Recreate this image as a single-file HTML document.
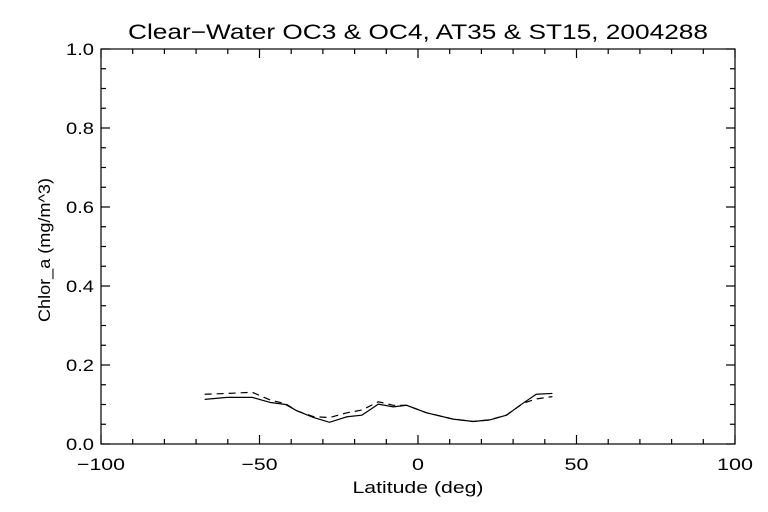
<!DOCTYPE html>
<html><head><meta charset="utf-8"><style>
body{margin:0;background:#fff}
svg{display:block}
text{font-family:"Liberation Sans",sans-serif;fill:#000}
</style></head><body>
<svg id="chart" width="768" height="512" viewBox="0 0 768 512">
<rect width="768" height="512" fill="#fff"/>
<text x="418" y="39" font-size="21" text-anchor="middle" textLength="580" lengthAdjust="spacingAndGlyphs">Clear−Water OC3 &amp; OC4, AT35 &amp; ST15, 2004288</text>
<text x="418" y="493" font-size="17" text-anchor="middle" textLength="131" lengthAdjust="spacingAndGlyphs">Latitude (deg)</text>
<text transform="translate(50,250) rotate(-90)" font-size="17" text-anchor="middle" textLength="144" lengthAdjust="spacingAndGlyphs">Chlor_a (mg/m^3)</text>
<rect x="101" y="49" width="634" height="395" fill="none" stroke="#000" stroke-width="1.2"/>
<g id="axes"></g>
<g id="series"></g>
</svg>
<script>
const xTicks=[-100,-50,0,50,100];
const yTicks=[0.0,0.2,0.4,0.6,0.8,1.0];
const lats=[-67.3,-60.2,-52.3,-46.5,-41.8,-38.2,-32.9,-27.9,-22.4,-17.7,-12.5,-7.8,-3.6,2.7,11.1,17.4,22.6,27.9,33.1,37.3,42.4];
const solidVals=[0.113,0.118,0.118,0.105,0.100,0.084,0.067,0.055,0.069,0.073,0.101,0.094,0.098,0.079,0.063,0.057,0.061,0.073,0.103,0.126,0.128];
const dashedVals=[0.126,0.128,0.131,0.111,0.102,0.084,0.069,0.067,0.079,0.086,0.107,0.098,0.098,0.079,0.063,0.057,0.061,0.073,0.103,0.114,0.120];
const X0=101,X1=735,Y0=444,Y1=49;
const sx=v=>X0+(v+100)/200*(X1-X0);
const sy=v=>Y0-v*(Y0-Y1);
const NS='http://www.w3.org/2000/svg';
const axes=document.getElementById('axes');
function line(x1,y1,x2,y2,name){const l=document.createElementNS(NS,'line');
l.setAttribute('x1',x1);l.setAttribute('y1',y1);l.setAttribute('x2',x2);l.setAttribute('y2',y2);
l.setAttribute('stroke','#000');l.setAttribute('stroke-width','1.2');


axes.appendChild(l);}
for(let v=-100;v<=100;v+=10){const x=sx(v);const L=(v%50===0)?9:5;
line(x,Y0,x,Y0-L,'x-tick');line(x,Y1,x,Y1+L,'x-tick-top');}
for(let i=0;i<=20;i++){const v=i*0.05;const y=sy(v);const L=(i%4===0)?9:5;
line(X0,y,X0+L,y,'y-tick');line(X1,y,X1-L,y,'y-tick-right');}
xTicks.forEach(v=>{const t=document.createElementNS(NS,'text');
t.setAttribute('x',sx(v));t.setAttribute('y',470);t.setAttribute('font-size','17');t.setAttribute('text-anchor','middle');
const s=(v<0?'−':'')+Math.abs(v);
t.textContent=s;
t.setAttribute('textLength',s.length*12);t.setAttribute('lengthAdjust','spacingAndGlyphs');


axes.appendChild(t);});
yTicks.forEach(v=>{const t=document.createElementNS(NS,'text');
t.setAttribute('x',94);t.setAttribute('y',sy(v)+6);t.setAttribute('font-size','17');t.setAttribute('text-anchor','end');
t.textContent=v.toFixed(1);
t.setAttribute('textLength',28);t.setAttribute('lengthAdjust','spacingAndGlyphs');


axes.appendChild(t);});
const series=document.getElementById('series');
function path(vals,dash,name){const p=document.createElementNS(NS,'polyline');
p.setAttribute('points',lats.map((a,i)=>sx(a)+','+sy(vals[i])).join(' '));
p.setAttribute('fill','none');p.setAttribute('stroke','#000');p.setAttribute('stroke-width','1.2');
if(dash)p.setAttribute('stroke-dasharray','7,5');


series.appendChild(p);}
path(solidVals,false,'solid-series-line');
path(dashedVals,true,'dashed-series-line');
</script>
</body></html>
